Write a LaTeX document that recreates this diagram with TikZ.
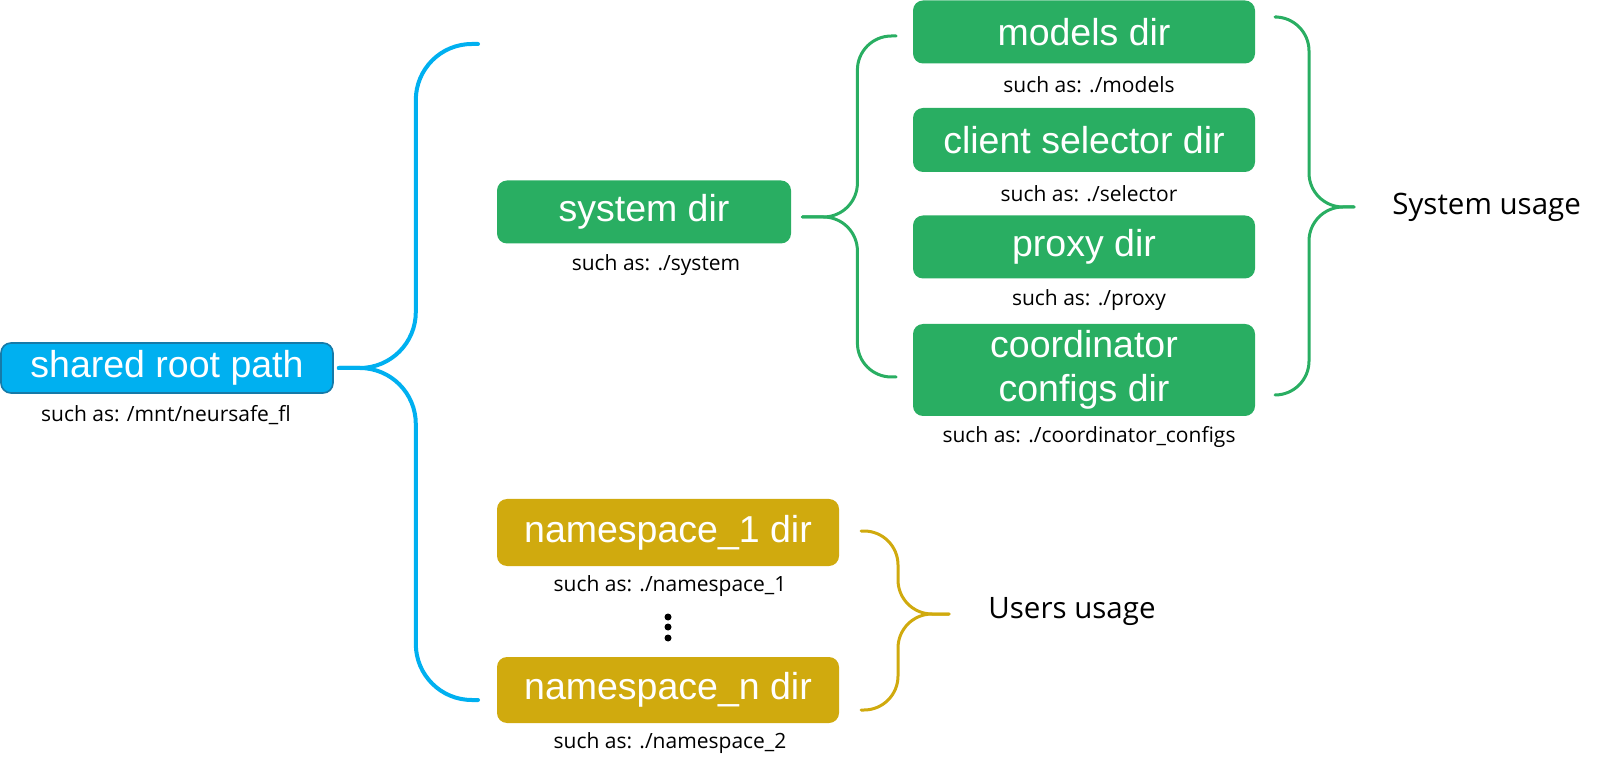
\documentclass[tikz,border=0pt]{standalone}
\usepackage{fontspec}
\setmainfont{Liberation Sans}
\newfontfamily\notefont{Open Sans}
\definecolor{rootblue}{RGB}{0,176,240}
\definecolor{rootedge}{RGB}{22,122,168}
\definecolor{sysgreen}{RGB}{41,174,98}
\definecolor{usergold}{RGB}{208,170,14}
\begin{document}
\begin{tikzpicture}[x=0.5pt,y=-0.5pt, line join=round, line cap=round,
	dir/.style={rounded corners=5pt, text=white, align=center, inner sep=0pt,
		font=\fontsize{18.75}{22}\selectfont},
	note/.style={inner sep=0pt, font=\notefont\fontsize{10.5}{12}\selectfont},
	usage/.style={inner sep=0pt, anchor=west, font=\notefont\fontsize{14.75}{17}\selectfont},
	brace/.style={line width=1.5pt, rounded corners=17pt}]
	\useasboundingbox (0,0) rectangle (1598,763);
	%\draw[gray!30] (0,0) grid[step=50pt] (1598,763);
	\node[dir, fill=rootblue, draw=rootedge, line width=0.8pt, minimum width=166pt, minimum height=25pt] (root) at (167,368) {shared root path};
	\node[note] (rootnote) at (166,415) {such as: /mnt/neursafe\_fl};
	\node[dir, fill=sysgreen, minimum width=147pt, minimum height=31.5pt] (system) at (644,212) {system dir};
	\node[note] (systemnote) at (656,265) {such as: ./system};
	\foreach \n/\y/\h/\t/\c in {models/32/31.5pt/{models dir}/{./models},
		selector/140/32pt/{client selector dir}/{./selector},
		proxy/247/31.5pt/{proxy dir}/{./proxy},
		coord/370/46pt/{coordinator\\configs dir}/{./coordinator\_configs}}
	{
		\node[dir, fill=sysgreen, minimum width=171pt, minimum height=\h] (\n) at (1084,\y) {\t};
		\node[note] (\n-note) at ([xshift=2.5pt,yshift=-10.5pt]\n.south) {such as: \c};
	}
	\node[dir, fill=usergold, minimum width=171pt, minimum height=33.5pt] (ns1) at (668,532.5) {namespace\_1 dir};
	\node[note] (ns1-note) at (670,586) {such as: ./namespace\_1};
	\foreach \y in {617,627,638}
	\fill (668,\y) circle (1.75pt);
	\node[dir, fill=usergold, minimum width=171pt, minimum height=33pt] (nsn) at (668,690) {namespace\_n dir};
	\node[note] (nsn-note) at (670,743) {such as: ./namespace\_2};
	\node[usage] (sysuse) at (1392,207) {System usage};
	\node[usage] (useruse) at (988,612) {Users usage};
	\coordinate (rootTop) at (478,44);
	\coordinate (rootBot) at (478,700);
	\coordinate (sysTop) at (896,36);
	\coordinate (sysBot) at (896,377);
	\coordinate (useTop) at (1277,17);
	\coordinate (useBot) at (1277,395);
	\coordinate (nsTop) at (861,531);
	\coordinate (nsBot) at (861,710);
	\draw[brace, rootblue, line width=2pt, rounded corners=28pt] ([xshift=2.5pt]root.east) -- ++(77,0) |- (rootTop);
	\draw[brace, rootblue, line width=2pt, rounded corners=28pt] ([xshift=2.5pt]root.east) -- ++(77,0) |- (rootBot);
	\draw[brace, sysgreen] ([xshift=5.5pt,yshift=-2.5pt]system.east) -- ++(55,0) |- (sysTop);
	\draw[brace, sysgreen] ([xshift=5.5pt,yshift=-2.5pt]system.east) -- ++(55,0) |- (sysBot);
	\draw[brace, sysgreen] ([xshift=-19pt]sysuse.west) -- ++(-45,0) |- (useTop);
	\draw[brace, sysgreen] ([xshift=-19pt]sysuse.west) -- ++(-45,0) |- (useBot);
	\draw[brace, usergold] ([xshift=-19.5pt,yshift=-1pt]useruse.west) -- ++(-51,0) |- (nsTop);
	\draw[brace, usergold] ([xshift=-19.5pt,yshift=-1pt]useruse.west) -- ++(-51,0) |- (nsBot);
\end{tikzpicture}
\end{document}
